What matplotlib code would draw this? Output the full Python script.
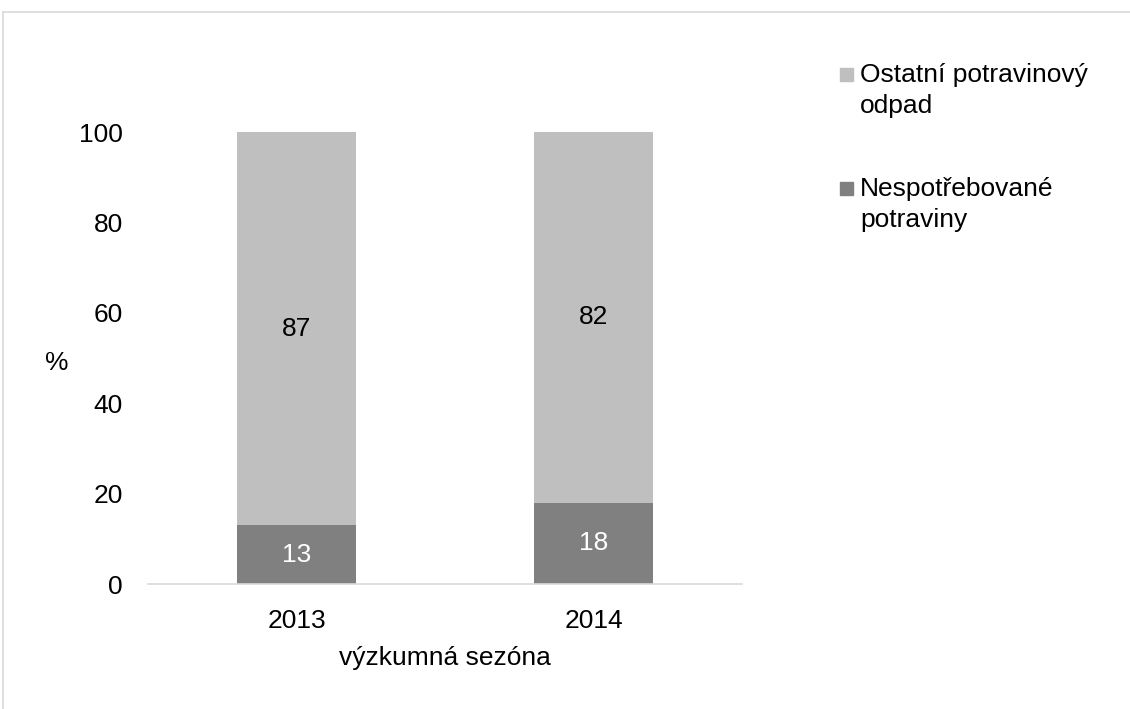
import matplotlib.pyplot as plt
from matplotlib.lines import Line2D
from matplotlib.patches import Rectangle

plt.rcParams['font.family'] = ['Liberation Sans', 'DejaVu Sans']

sezony = ["2013", "2014"]
nespotrebovane = [13, 18]
ostatni = [87, 82]
popisky = ["Nespotřebované\npotraviny", "Ostatní potravinový\nodpad"]
barvy = ["#808080", "#BFBFBF"]

FS = 19

fig = plt.figure(figsize=(11.3, 7.09), dpi=100)
ax = fig.add_axes([0.131, 0.1763, 0.526, 0.6375])

x = range(len(sezony))
b1 = ax.bar(x, nespotrebovane, width=0.4, color=barvy[0])
b2 = ax.bar(x, ostatni, width=0.4, bottom=nespotrebovane, color=barvy[1])
ax.bar_label(b1, labels=[str(v) for v in nespotrebovane], label_type="center",
             color="white", fontsize=FS)
ax.bar_label(b2, labels=[str(v) for v in ostatni], label_type="center",
             color="black", fontsize=FS)

ax.set_xlim(-0.5, 1.5)
ax.set_ylim(0, 100)
ax.set_yticks([0, 20, 40, 60, 80, 100])
ax.set_xticks(list(x))
ax.set_xticklabels(sezony)
ax.tick_params(axis="both", length=0, labelsize=FS, pad=18)
for s in ["top", "right", "left"]:
    ax.spines[s].set_visible(False)
ax.spines["bottom"].set_color("#D9D9D9")
ax.spines["bottom"].set_linewidth(1.2)

ax.set_xlabel("výzkumná sezóna", fontsize=FS, labelpad=9)
ax.set_ylabel("%", fontsize=FS, rotation=0, va="center", ha="center")
ax.yaxis.set_label_coords(-0.154, 0.49)

# legenda po zpusobu Excelu - ctverecek u prvniho radku
leg_pol = [(barvy[1], popisky[1], 74), (barvy[0], popisky[0], 188)]
for barva, text, ypix in leg_pol:
    fig.add_artist(Rectangle((840 / 1130, 1 - (ypix + 6.5) / 709), 13 / 1130, 13 / 709,
                             transform=fig.transFigure, color=barva))
    fig.text(860 / 1130, 1 - (ypix - 11) / 709, text, fontsize=FS, va="top",
             ha="left", linespacing=1.35)

# tenky ramecek kolem grafu
fig.add_artist(Line2D([0.003, 1.0], [0.983, 0.983], color="#D9D9D9", lw=1.2))
fig.add_artist(Line2D([0.003, 0.003], [0.0, 0.983], color="#D9D9D9", lw=1.2))

fig.savefig("out.png", dpi=100)
